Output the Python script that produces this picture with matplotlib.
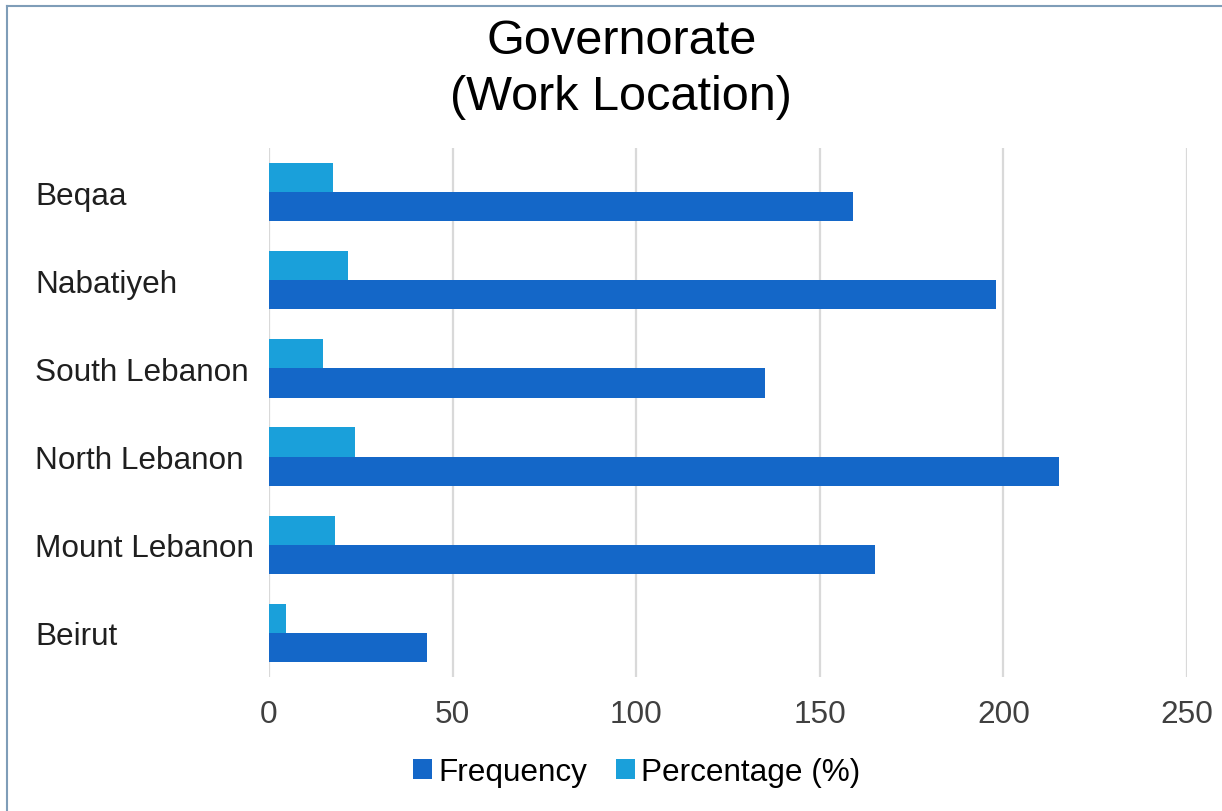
"""Horizontal bar chart of the governorate of work location."""

from matplotlib import pyplot
from matplotlib.lines import Line2D
import numpy

# Data (bottom to top).
governorates = ['Beirut', 'Mount Lebanon', 'North Lebanon',
                'South Lebanon', 'Nabatiyeh', 'Beqaa']
frequency = [43, 165, 215, 135, 198, 159]
percentage = [4.7, 18.0, 23.5, 14.8, 21.6, 17.4]
xticks = [0, 50, 100, 150, 200, 250]

color_freq = '#1467C8'
color_pct = '#1AA0DA'

pyplot.rc('font', family=['Liberation Sans', 'DejaVu Sans'], size=22.7)

fig = pyplot.figure(figsize=(12.22, 8.12), dpi=100)
ax = fig.add_axes([0.2201, 0.165, 0.7513, 0.6515])

y = numpy.arange(len(governorates))
h = 0.33
ax.barh(y - h / 2, frequency, height=h, color=color_freq,
        label='Frequency', zorder=3)
ax.barh(y + h / 2, percentage, height=h, color=color_pct,
        label='Percentage (%)', zorder=3)

ax.set_xlim(0, 250)
ax.set_ylim(-0.5, len(governorates) - 0.5)
ax.set_xticks(xticks)
ax.set_yticks(y)
ax.set_yticklabels(governorates, ha='left')
ax.tick_params(axis='y', length=0, pad=168.5, colors='#1F1F1F')
ax.tick_params(axis='x', length=0, pad=16, colors='#404040')
ax.xaxis.grid(True, color='#D9D9D9', linewidth=1.6, zorder=0)
for spine in ax.spines.values():
    spine.set_visible(False)

fig.text(0.5085, 0.914, 'Governorate\n(Work Location)', ha='center',
         va='center', fontsize=35, linespacing=1.32, color='#000000')

handles, labels = ax.get_legend_handles_labels()
fig.legend(handles, labels, loc='center', bbox_to_anchor=(0.521, 0.048),
           ncol=2, frameon=False, handlelength=0.6, handleheight=0.6,
           handletextpad=0.2, columnspacing=0.9, fontsize=22.7)

# Thin frame line at left and top, as in the reference.
fig.add_artist(Line2D([7 / 1222, 7 / 1222], [0, 1 - 7 / 812],
                      transform=fig.transFigure, color='#7F9DB8', lw=1.5))
fig.add_artist(Line2D([7 / 1222, 1], [1 - 7 / 812, 1 - 7 / 812],
                      transform=fig.transFigure, color='#7F9DB8', lw=1.5))

fig.savefig('out.png', dpi=100)
